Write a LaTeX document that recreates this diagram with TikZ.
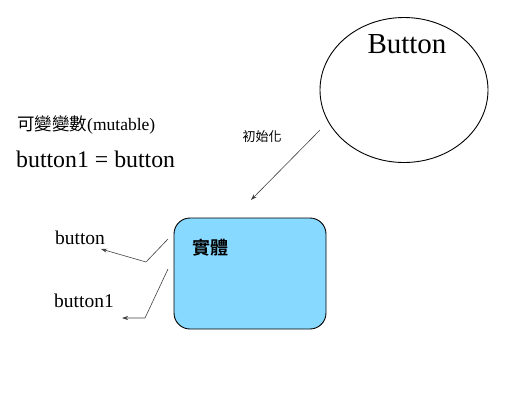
\documentclass[tikz,border=0pt]{standalone}
\usepackage{fontspec}
\setmainfont{Liberation Serif}
\newfontfamily\cjk{Noto Sans CJK TC}
\newfontfamily\cjkbold{Noto Sans CJK TC Bold}
\usetikzlibrary{shapes.geometric,arrows.meta}
\definecolor{objblue}{HTML}{87D9FF}
\definecolor{linegray}{HTML}{404040}
\tikzset{
  ptr/.style={draw=linegray, line width=0.6pt, -{Stealth[length=6pt,width=4pt]}},
  lbl/.style={inner sep=0pt, anchor=center}
}

\begin{document}
\begin{tikzpicture}[x=1pt, y=-1pt]
			%%%%% START %%%%%
			\useasboundingbox (0, 0) rectangle (522, 408);
			
			% object Button
			\node[draw, ellipse, line width=0.9pt, minimum width=168pt, minimum height=145pt] (btn) at (404, 90) {};
			\node[lbl, font=\fontsize{29}{31}\selectfont] (btntxt) at (407, 44) {Button};
			
			% variable text
			\node[lbl, anchor=west, font=\fontsize{17.5}{19}\selectfont] (mut) at (17, 125) {{\cjk 可變變數}(mutable)};
			\node[lbl, anchor=west, font=\fontsize{23.8}{26}\selectfont] (assign) at (16, 159) {button1 = button};
			
			% init arrow
			\coordinate (initA) at (320, 130);
			\coordinate (initB) at (251, 200);
			\draw[ptr] (initA) -- (initB);
			\node[lbl, font=\cjk\fontsize{13}{15}\selectfont] (init) at (262, 137) {初始化};
			
			% the instance
			\node[draw, line width=0.9pt, fill=objblue, rounded corners=16pt, minimum width=152pt, minimum height=111pt] (obj) at (250, 273.5) {};
			\node[lbl, font=\cjkbold\fontsize{18}{20}\selectfont] (objtxt) at (210, 248) {實體};
			
			% references
			\node[lbl, font=\fontsize{19.5}{21}\selectfont] (ref1) at (80, 238) {button};
			\node[lbl, font=\fontsize{19.5}{21}\selectfont] (ref2) at (84, 301) {button1};
			\coordinate (r1a) at (168, 239);
			\coordinate (r1b) at (146, 262);
			\coordinate (r1c) at (101, 249);
			\coordinate (r2a) at (168, 269);
			\coordinate (r2b) at (145, 318);
			\coordinate (r2c) at (122, 318);
			\draw[ptr] (r1a) -- (r1b) -- (r1c);
			\draw[ptr] (r2a) -- (r2b) -- (r2c);
			%%%%% END %%%%%
		\end{tikzpicture}
\end{document}
